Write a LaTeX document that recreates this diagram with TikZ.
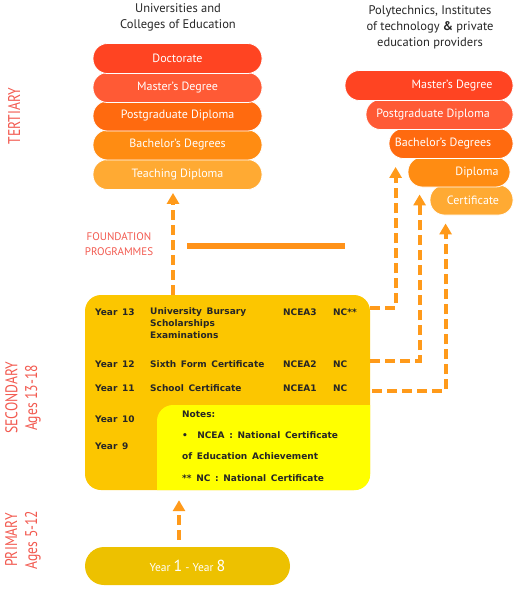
\documentclass[tikz,border=0pt]{standalone}
\usepackage{fontspec}
\setmainfont{PT Sans}
\newfontfamily\boxfont[WordSpace=1.5]{DejaVu Sans}
\newfontfamily\sidefont[FakeStretch=0.8]{PT Sans}
\usetikzlibrary{arrows.meta,positioning,calc}
\definecolor{cDoc}{HTML}{FF4422}
\definecolor{cMas}{HTML}{FF5A35}
\definecolor{cPg}{HTML}{FF6A0F}
\definecolor{cBach}{HTML}{FF8C12}
\definecolor{cTeach}{HTML}{FFAA33}
\definecolor{cFlow}{HTML}{FF9A1A}
\definecolor{cSec}{HTML}{FCC600}
\definecolor{cNote}{HTML}{FFFF00}
\definecolor{cPrim}{HTML}{EDC100}
\definecolor{cSide}{HTML}{F25A50}
\tikzset{
  pill/.style={draw=white, line width=0.8pt, rounded corners=14.5pt, minimum height=30pt, inner sep=0pt, text=white, font=\fontsize{12}{14}\selectfont},
  pilltxt/.style={text=white, inner sep=0pt, font=\fontsize{12}{14}\selectfont},
  header/.style={align=center, font=\fontsize{12.5}{16}\selectfont, text=black!85},
  sidelbl/.style={rotate=90, align=center, text=cSide, font=\sidefont\fontsize{17}{21}\selectfont},
  rowtxt/.style={anchor=base west, inner sep=0pt, font=\boxfont\bfseries\fontsize{9}{12}\selectfont, text=black!85},
  flow/.style={draw=cFlow, line width=4pt, dash pattern=on 10pt off 5pt, -{Triangle[length=11pt,width=12pt]}},
  flowline/.style={draw=cFlow, line width=4pt, dash pattern=on 10pt off 5pt}
}
\begin{document}
\begin{tikzpicture}[x=1pt,y=-1pt]
\useasboundingbox (0,0) rectangle (520,590);
% headers
\node[header] (hUni) at (178,17) {Universities and\\Colleges of Education};
\node[header] (hPoly) at (430,27) {Polytechnics, Institutes\\of technology \textbf{\&} private\\education providers};
% side labels
\node[sidelbl] (lTer) at (14,116) {TERTIARY};
\node[sidelbl, font=\sidefont\fontsize{17}{20}\selectfont] (lSec) at (23,398) {SECONDARY\\Ages 13-18};
\node[sidelbl, font=\sidefont\fontsize{17}{20}\selectfont] (lPrim) at (23,540) {PRIMARY\\Ages 5-12};
% universities stack
\node[pill, fill=cTeach, minimum width=169pt] (uTeach) at (177.5,174.5) {Teaching Diploma};
\node[pill, fill=cBach, minimum width=169pt] (uBach) at (177.5,145) {Bachelor's Degrees};
\node[pill, fill=cPg, minimum width=169pt] (uPg) at (177.5,116) {Postgraduate Diploma};
\node[pill, fill=cMas, minimum width=169pt] (uMas) at (177.5,87.5) {Master's Degree};
\node[pill, fill=cDoc, minimum width=169pt] (uDoc) at (177.5,58.5) {Doctorate};
% polytechnics stack
\node[pill, fill=cTeach, minimum width=83pt] (pCert) at (471.5,200) {};
\node[pill, fill=cBach, minimum width=102pt] (pDip) at (459,172) {};
\node[pill, fill=cPg, minimum width=124pt] (pBach) at (451,143.5) {};
\node[pill, fill=cMas, minimum width=147pt] (pPg) at (439.5,114.5) {};
\node[pill, fill=cDoc, minimum width=168pt] (pMas) at (429,85.5) {};
\node[pilltxt] (tCert) at (473,200) {Certificate};
\node[pilltxt] (tDip) at (477,172) {Diploma};
\node[pilltxt] (tBach) at (443,143.5) {Bachelor's Degrees};
\node[pilltxt] (tPg) at (433,114.5) {Postgraduate Diploma};
\node[pilltxt] (tMas) at (452,85.5) {Master's Degree};
% foundation programmes
\node[align=center, text=cSide, font=\fontsize{11}{15}\selectfont] (found) at (119,244) {FOUNDATION\\PROGRAMMES};
\coordinate (barL) at (187,246);
\coordinate (barR) at (345,246);
\draw[cFlow!95!red, line width=6pt] (barL) -- (barR);
% secondary box
\node[draw=none, fill=cSec, rounded corners=16pt, minimum width=285pt, minimum height=195pt] (sec) at (227.5,392.5) {};
\begin{scope}
\clip[rounded corners=16pt] (sec.south west) rectangle (sec.north east);
\fill[cNote, rounded corners=16pt] (157,405) rectangle (420,530);
\end{scope}
\node[rowtxt] (y13) at (95,315) {Year 13};
\node[rowtxt, anchor=north west, align=left, yshift=-0.5pt] (ubs) at (150,307) {University Bursary\\Scholarships\\Examinations};
\node[rowtxt] (n3) at (283,315) {NCEA3};
\node[rowtxt] (c3) at (333,315) {NC**};
\node[rowtxt] (y12) at (95,367) {Year 12};
\node[rowtxt] (sfc) at (150,367) {Sixth Form Certificate};
\node[rowtxt] (n2) at (283,367) {NCEA2};
\node[rowtxt] (c2) at (333,367) {NC};
\node[rowtxt] (y11) at (95,391) {Year 11};
\node[rowtxt] (sc) at (150,391) {School Certificate};
\node[rowtxt] (n1) at (283,391) {NCEA1};
\node[rowtxt] (c1) at (333,391) {NC};
\node[rowtxt] (y10) at (95,422) {Year 10};
\node[rowtxt] (y9) at (95,449) {Year 9};
\node[rowtxt] (notes) at (182,417) {Notes:};
\node[rowtxt] (note1) at (182,438) {\textbullet\ \ NCEA : National Certificate};
\node[rowtxt] (note2) at (182,459) {of Education Achievement};
\node[rowtxt] (note3) at (182,481) {** NC : National Certificate};
% primary box
\node[fill=cPrim, rounded corners=19pt, minimum width=205pt, minimum height=38pt, text=white, font=\fontsize{11.5}{13}\selectfont] (prim) at (187.5,566) {Year {\fontsize{16}{16}\selectfont 1} - Year {\fontsize{16}{16}\selectfont 8}};
% connectors
\coordinate (aUni) at ($(uTeach.south)+(-4.5,3)$);
\coordinate (aBach) at ($(pBach.south west)+(7,8)$);
\coordinate (aDip) at ($(pDip.south west)+(12,7)$);
\coordinate (aCert) at ($(pCert.south west)+(16,8)$);
\draw[flow] (aUni |- sec.north) -- (aUni);
\draw[flow] ($(sec.east |- y13)+(0,-4)$) -| (aBach);
\draw[flow] ($(sec.east |- y12)+(0,-3)$) -| (aDip);
\draw[flow] ($(sec.east |- y11)+(2,3)$) -| (aCert);
\draw[flow] ($(prim.north)+(-8.5,-7)$) -- ($(sec.south)+(-48.5,10)$);
\end{tikzpicture}
\end{document}
